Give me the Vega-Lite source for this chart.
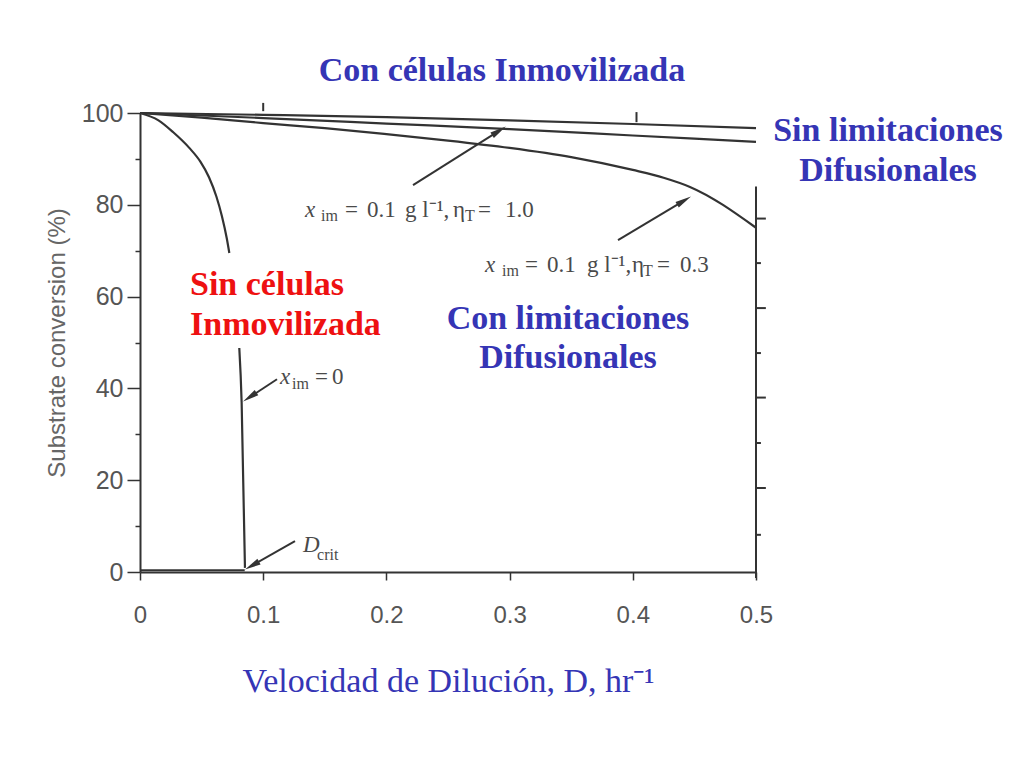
{
  "$schema": "https://vega.github.io/schema/vega-lite/v6.json",
  "width": 616,
  "height": 459,
  "autosize": "none",
  "padding": {"left": 140, "top": 113, "right": 268, "bottom": 196},
  "background": "white",
  "config": {"view": {"stroke": null}},
  "datasets": {
    "curves": [
      {"s": "A", "i": 0, "D": 0, "c": 100}, {"s": "A", "i": 1, "D": 0.1, "c": 99.6}, {"s": "A", "i": 2, "D": 0.2, "c": 99.1}, {"s": "A", "i": 3, "D": 0.3, "c": 98.4}, {"s": "A", "i": 4, "D": 0.4, "c": 97.6}, {"s": "A", "i": 5, "D": 0.5, "c": 96.7},
      {"s": "B", "i": 0, "D": 0, "c": 100}, {"s": "B", "i": 1, "D": 0.1, "c": 98.9}, {"s": "B", "i": 2, "D": 0.2, "c": 97.7}, {"s": "B", "i": 3, "D": 0.3, "c": 96.5}, {"s": "B", "i": 4, "D": 0.4, "c": 95.1}, {"s": "B", "i": 5, "D": 0.5, "c": 93.7},
      {"s": "C", "i": 0, "D": 0, "c": 100}, {"s": "C", "i": 1, "D": 0.05, "c": 99.0}, {"s": "C", "i": 2, "D": 0.1, "c": 97.8}, {"s": "C", "i": 3, "D": 0.15, "c": 96.7}, {"s": "C", "i": 4, "D": 0.2, "c": 95.4}, {"s": "C", "i": 5, "D": 0.25, "c": 94.0}, {"s": "C", "i": 6, "D": 0.3, "c": 92.4}, {"s": "C", "i": 7, "D": 0.35, "c": 90.4}, {"s": "C", "i": 8, "D": 0.4, "c": 87.6}, {"s": "C", "i": 9, "D": 0.425, "c": 85.9}, {"s": "C", "i": 10, "D": 0.4464, "c": 83.9}, {"s": "C", "i": 11, "D": 0.5, "c": 75.0},
      {"s": "D", "i": 0, "D": 0, "c": 100}, {"s": "D", "i": 1, "D": 0.015, "c": 98.4}, {"s": "D", "i": 2, "D": 0.027, "c": 95.8}, {"s": "D", "i": 3, "D": 0.04, "c": 92.4}, {"s": "D", "i": 4, "D": 0.049, "c": 89.4}, {"s": "D", "i": 5, "D": 0.056, "c": 86.0}, {"s": "D", "i": 6, "D": 0.062, "c": 81.8}, {"s": "D", "i": 7, "D": 0.0665, "c": 77.5}, {"s": "D", "i": 8, "D": 0.0705, "c": 72.6}, {"s": "D", "i": 9, "D": 0.0725, "c": 69.5},
      {"s": "E", "i": 0, "D": 0.0806, "c": 48.8}, {"s": "E", "i": 1, "D": 0.0825, "c": 37.0}, {"s": "E", "i": 2, "D": 0.0852, "c": 0.9}
    ],
    "frame": [
      {"x": 0.5, "x2": 0.5, "y": 84, "y2": -1.3},
      {"x": 0.5, "x2": 0.508, "y": 77, "y2": 77},
      {"x": 0.5, "x2": 0.504, "y": 67.3, "y2": 67.3},
      {"x": 0.5, "x2": 0.508, "y": 57.5, "y2": 57.5},
      {"x": 0.5, "x2": 0.504, "y": 47.7, "y2": 47.7},
      {"x": 0.5, "x2": 0.508, "y": 38, "y2": 38},
      {"x": 0.5, "x2": 0.504, "y": 28.1, "y2": 28.1},
      {"x": 0.5, "x2": 0.508, "y": 18.3, "y2": 18.3},
      {"x": 0.5, "x2": 0.504, "y": 8.1, "y2": 8.1},
      {"x": 0.1, "x2": 0.1, "y": 100.4, "y2": 102.2},
      {"x": 0.403, "x2": 0.403, "y": 98, "y2": 100.2},
      {"x": 0, "x2": 0.085, "y": 0.4, "y2": 0.4}
    ],
    "arrows": [
      {"D0": 0.2216, "c0": 84.3, "D1": 0.2914, "c1": 96.1, "dir": 57.8},
      {"D0": 0.388, "c0": 72.3, "D1": 0.4416, "c1": 80.9, "dir": 59.2},
      {"D0": 0.1112, "c0": 42.0, "D1": 0.0891, "c1": 38.1, "dir": 236.3},
      {"D0": 0.1258, "c0": 6.75, "D1": 0.0909, "c1": 1.4, "dir": 240.3}
    ],
    "blue": [
      {"t": "Con células Inmovilizada", "D": 0.2938, "c": 109.2},
      {"t": "Sin limitaciones", "D": 0.6071, "c": 96.1},
      {"t": "Difusionales", "D": 0.6071, "c": 87.4},
      {"t": "Con limitaciones", "D": 0.3474, "c": 55.1},
      {"t": "Difusionales", "D": 0.3474, "c": 46.6}
    ],
    "red": [
      {"t": "Sin células", "D": 0.0406, "c": 62.5},
      {"t": "Inmovilizada", "D": 0.0406, "c": 53.8}
    ],
    "gmain": [
      {"t": "=", "D": 0.1664, "c": 78.87}, {"t": "0.1", "D": 0.1843, "c": 78.87}, {"t": "g l⁻¹,", "D": 0.2151, "c": 78.87}, {"t": "η", "D": 0.2541, "c": 78.87}, {"t": "=", "D": 0.2744, "c": 78.87}, {"t": "1.0", "D": 0.2963, "c": 78.87},
      {"t": "=", "D": 0.3125, "c": 66.88}, {"t": "0.1", "D": 0.3304, "c": 66.88}, {"t": "g l⁻¹,", "D": 0.3628, "c": 66.88}, {"t": "η", "D": 0.3994, "c": 66.88}, {"t": "=", "D": 0.4196, "c": 66.88}, {"t": "0.3", "D": 0.4383, "c": 66.88},
      {"t": "=", "D": 0.142, "c": 42.48}, {"t": "0", "D": 0.1558, "c": 42.48}
    ],
    "gital": [
      {"t": "x", "D": 0.1339, "c": 78.87},
      {"t": "x", "D": 0.28, "c": 66.88},
      {"t": "x", "D": 0.1136, "c": 42.48},
      {"t": "D", "D": 0.1323, "c": 5.88}
    ],
    "gsub": [
      {"t": "im", "D": 0.1469, "c": 77.6}, {"t": "T", "D": 0.2638, "c": 77.6},
      {"t": "im", "D": 0.2938, "c": 65.6}, {"t": "T", "D": 0.4083, "c": 65.6},
      {"t": "im", "D": 0.1234, "c": 41.0},
      {"t": "crit", "D": 0.1437, "c": 3.7}
    ]
  },
  "layer": [
    {
      "data": {"name": "curves"},
      "mark": {"type": "line", "stroke": "#333333", "strokeWidth": 2.2, "interpolate": "monotone"},
      "encoding": {
        "x": {
          "field": "D", "type": "quantitative",
          "scale": {"domain": [0, 0.5], "nice": false, "zero": false},
          "axis": {
            "values": [0, 0.1, 0.2, 0.3, 0.4, 0.5],
            "labelExpr": "datum.value == 0 ? '0' : format(datum.value, '.1f')",
            "grid": false,
            "domainColor": "#333333", "domainWidth": 2,
            "tickColor": "#333333", "tickWidth": 1.5, "tickSize": 8,
            "labelFont": "Liberation Sans", "labelFontSize": 24, "labelColor": "#555555",
            "labelPadding": 23, "labelFlush": false,
            "title": "Velocidad de Dilución, D, hr⁻¹",
            "titleFont": "Liberation Serif", "titleFontSize": 34, "titleFontWeight": "normal",
            "titleColor": "#3535b5", "titlePadding": 37
          }
        },
        "y": {
          "field": "c", "type": "quantitative",
          "scale": {"domain": [0, 100], "nice": false, "zero": false},
          "axis": {
            "values": [0, 10, 20, 30, 40, 50, 60, 70, 80, 90, 100],
            "labelExpr": "datum.value % 20 == 0 ? datum.label : ''",
            "grid": false,
            "domainColor": "#333333", "domainWidth": 2,
            "tickColor": "#333333", "tickWidth": 1.5,
            "tickSize": {"condition": {"test": "datum.value % 20 == 0", "value": 13}, "value": 5},
            "labelFont": "Liberation Sans", "labelFontSize": 25, "labelColor": "#555555",
            "labelPadding": 4, "labelFlush": false,
            "title": "Substrate conversion (%)",
            "titleFont": "Liberation Sans", "titleFontSize": 24, "titleFontWeight": "normal",
            "titleColor": "#666666", "titlePadding": 12
          }
        },
        "detail": {"field": "s"},
        "order": {"field": "i", "type": "quantitative"}
      }
    },
    {
      "data": {"name": "frame"},
      "mark": {"type": "rule", "stroke": "#333333", "strokeWidth": 2},
      "encoding": {
        "x": {"field": "x", "type": "quantitative"},
        "x2": {"field": "x2"},
        "y": {"field": "y", "type": "quantitative"},
        "y2": {"field": "y2"}
      }
    },
    {
      "data": {"name": "arrows"},
      "mark": {"type": "rule", "stroke": "#333333", "strokeWidth": 2},
      "encoding": {
        "x": {"field": "D0", "type": "quantitative"},
        "x2": {"field": "D1"},
        "y": {"field": "c0", "type": "quantitative"},
        "y2": {"field": "c1"}
      }
    },
    {
      "data": {"name": "arrows"},
      "mark": {"type": "point", "shape": "M0,-1L0.4,1L-0.4,1Z", "filled": true, "color": "#333333", "size": 260, "opacity": 1},
      "encoding": {
        "x": {"field": "D1", "type": "quantitative"},
        "y": {"field": "c1", "type": "quantitative"},
        "angle": {"field": "dir", "type": "quantitative", "scale": null}
      }
    },
    {
      "data": {"name": "blue"},
      "mark": {"type": "text", "font": "Liberation Serif", "fontSize": 34, "fontWeight": "bold", "color": "#3535b5", "align": "center", "baseline": "middle"},
      "encoding": {
        "x": {"field": "D", "type": "quantitative"},
        "y": {"field": "c", "type": "quantitative"},
        "text": {"field": "t"}
      }
    },
    {
      "data": {"name": "red"},
      "mark": {"type": "text", "font": "Liberation Serif", "fontSize": 34, "fontWeight": "bold", "color": "#ee1111", "align": "left", "baseline": "middle"},
      "encoding": {
        "x": {"field": "D", "type": "quantitative"},
        "y": {"field": "c", "type": "quantitative"},
        "text": {"field": "t"}
      }
    },
    {
      "data": {"name": "gmain"},
      "mark": {"type": "text", "font": "Liberation Serif", "fontSize": 23, "color": "#4a4a4a", "align": "left", "baseline": "middle"},
      "encoding": {
        "x": {"field": "D", "type": "quantitative"},
        "y": {"field": "c", "type": "quantitative"},
        "text": {"field": "t"}
      }
    },
    {
      "data": {"name": "gital"},
      "mark": {"type": "text", "font": "Liberation Serif", "fontSize": 23, "fontStyle": "italic", "color": "#4a4a4a", "align": "left", "baseline": "middle"},
      "encoding": {
        "x": {"field": "D", "type": "quantitative"},
        "y": {"field": "c", "type": "quantitative"},
        "text": {"field": "t"}
      }
    },
    {
      "data": {"name": "gsub"},
      "mark": {"type": "text", "font": "Liberation Serif", "fontSize": 16, "color": "#4a4a4a", "align": "left", "baseline": "middle"},
      "encoding": {
        "x": {"field": "D", "type": "quantitative"},
        "y": {"field": "c", "type": "quantitative"},
        "text": {"field": "t"}
      }
    }
  ]
}
